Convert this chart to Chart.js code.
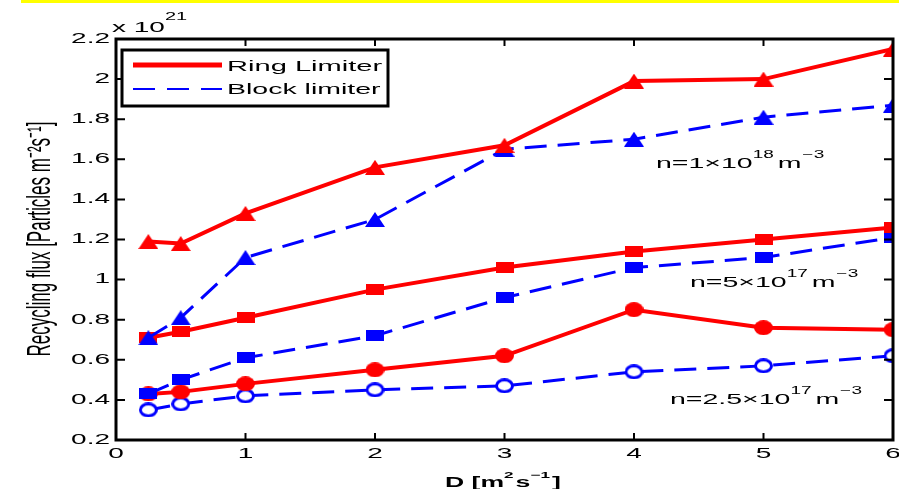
<!DOCTYPE html>
<html>
<head>
<meta charset="utf-8">
<script src="https://cdn.jsdelivr.net/npm/chart.js@4/dist/chart.umd.min.js"></script>
<style>
    html, body { margin: 0; padding: 0; background: #fff; }
    #wrap { position: relative; width: 899px; height: 489px; }
    #topBand { position: absolute; left: 21px; top: 0; width: 878px; height: 3px; background: #ffff00; }
</style>
</head>
<body>
<div id="wrap">
    <div id="topBand"></div>
    <canvas id="fluxChart" width="899" height="489"></canvas>
</div>
<script>
const D_VALUES = [0.25, 0.5, 1, 2, 3, 4, 5, 6];
const Y_TICKS = [0.2, 0.4, 0.6, 0.8, 1, 1.2, 1.4, 1.6, 1.8, 2, 2.2];
const X_TICKS = [0, 1, 2, 3, 4, 5, 6];

// n = 1e18
const RING_HIGH = [1.19, 1.18, 1.33, 1.56, 1.67, 1.99, 2.0, 2.15];
const BLOCK_HIGH = [0.71, 0.81, 1.11, 1.30, 1.65, 1.70, 1.81, 1.87];
// n = 5e17
const RING_MID = [0.71, 0.74, 0.81, 0.95, 1.06, 1.14, 1.20, 1.26];
const BLOCK_MID = [0.43, 0.50, 0.61, 0.72, 0.91, 1.06, 1.11, 1.21];
// n = 2.5e17
const RING_LOW = [0.43, 0.44, 0.48, 0.55, 0.62, 0.85, 0.76, 0.75];
const BLOCK_LOW = [0.35, 0.38, 0.42, 0.45, 0.47, 0.54, 0.57, 0.62];

const RED = '#ff0000';
const BLUE = '#0000ff';
const FONT = 'Liberation Sans, Arial, sans-serif';
const STRETCH = 1.9; // the original figure is squashed vertically, text looks wide

// markers are wider than tall in the source, so draw them on small canvases
const makeMarker = (shape, color, w, h, hollow) => {
    const c = document.createElement('canvas');
    c.width = w;
    c.height = h;
    const g = c.getContext('2d');
    g.fillStyle = color;
    g.strokeStyle = color;
    g.beginPath();
    if (shape === 'triangle') {
        g.moveTo(w / 2, 0);
        g.lineTo(w, h);
        g.lineTo(0, h);
        g.closePath();
        g.fill();
    } else if (shape === 'rect') {
        g.fillRect(0, 0, w, h);
    } else {
        const lw = hollow ? 3 : 0;
        g.ellipse(w / 2, h / 2, w / 2 - lw / 2, h / 2 - lw / 2, 0, 0, Math.PI * 2);
        if (hollow) {
            g.fillStyle = '#fff';
            g.fill();
            g.lineWidth = lw;
            g.stroke();
        } else {
            g.fill();
        }
    }
    return c;
};

const toPoints = (values) => values.map((v, i) => ({ x: D_VALUES[i], y: v }));

const series = (label, values, color, marker, dashed) => ({
    label,
    data: toPoints(values),
    borderColor: color,
    backgroundColor: color,
    borderWidth: dashed ? 3 : 4,
    borderDash: dashed ? [22, 11] : [],
    pointStyle: marker,
    pointRadius: 8,
    tension: 0,
});

const text = (ctx, str, x, y, opts = {}) => {
    const sx = opts.sx || STRETCH;
    ctx.save();
    ctx.font = `${opts.bold ? 'bold ' : ''}${opts.size || 15}px ${FONT}`;
    ctx.textAlign = opts.align || 'left';
    ctx.textBaseline = opts.baseline || 'alphabetic';
    ctx.fillStyle = '#000';
    ctx.translate(x, y);
    ctx.scale(sx, 1);
    if (opts.rotate) ctx.rotate(opts.rotate);
    ctx.fillText(str, 0, 0);
    const w = ctx.measureText(str).width * sx;
    ctx.restore();
    return w;
};

const framePlugin = {
    id: 'frame',
    afterDraw(chart) {
        const { ctx, chartArea: a, scales } = chart;
        const x = scales.x;
        const y = scales.y;
        ctx.save();
        ctx.strokeStyle = '#000';
        ctx.lineWidth = 3;
        ctx.strokeRect(a.left, a.top, a.right - a.left, a.bottom - a.top);

        ctx.lineWidth = 2;
        ctx.beginPath();
        X_TICKS.forEach((t) => {
            const px = x.getPixelForValue(t);
            ctx.moveTo(px, a.bottom); ctx.lineTo(px, a.bottom - 7);
            ctx.moveTo(px, a.top); ctx.lineTo(px, a.top + 7);
        });
        Y_TICKS.forEach((t) => {
            const py = y.getPixelForValue(t);
            ctx.moveTo(a.left, py); ctx.lineTo(a.left + 9, py);
            ctx.moveTo(a.right, py); ctx.lineTo(a.right - 9, py);
        });
        ctx.stroke();
        ctx.restore();

        // tick labels
        Y_TICKS.forEach((t) => {
            const label = String(Math.round(t * 10) / 10);
            text(ctx, label, a.left - 6, y.getPixelForValue(t), { size: 14, align: 'right', baseline: 'middle', sx: 2.0 });
        });
        X_TICKS.forEach((t) => {
            text(ctx, String(t), x.getPixelForValue(t), a.bottom + 14, { size: 14, align: 'center', baseline: 'middle', sx: 2.0 });
        });

        // axis titles
        let w = text(ctx, 'D [m', 445, 487, { size: 14, bold: true });
        w += text(ctx, '2', 445 + w, 478, { size: 9, bold: true });
        w += text(ctx, 's', 445 + w + 2, 487, { size: 14, bold: true }) + 2;
        w += text(ctx, '\u22121', 445 + w, 478, { size: 9, bold: true });
        text(ctx, ']', 445 + w + 2, 487, { size: 14, bold: true });

        text(ctx, 'Recycling flux [Particles m\u207b\u00b2s\u207b\u00b9]', 41, 239,
            { size: 17, align: 'center', baseline: 'middle', sx: 1.9, rotate: -Math.PI / 2 });

        // exponent label
        const xw = text(ctx, 'x 10', 112, 32, { size: 14, sx: 2.0 });
        text(ctx, '21', 112 + xw, 20, { size: 10, sx: 2.0 });

        // legend
        const lx = 122, ly = 50, lw = 266, lh = 56;
        ctx.save();
        ctx.fillStyle = '#fff';
        ctx.fillRect(lx, ly, lw, lh);
        ctx.lineWidth = 3;
        ctx.strokeStyle = '#000';
        ctx.strokeRect(lx, ly, lw, lh);
        ctx.lineWidth = 5;
        ctx.strokeStyle = RED;
        ctx.beginPath(); ctx.moveTo(133, 65); ctx.lineTo(222, 65); ctx.stroke();
        ctx.lineWidth = 2;
        ctx.strokeStyle = BLUE;
        ctx.setLineDash([22, 12]);
        ctx.beginPath(); ctx.moveTo(133, 89); ctx.lineTo(222, 89); ctx.stroke();
        ctx.restore();
        text(ctx, 'Ring Limiter', 227, 67, { size: 15, baseline: 'middle', sx: 1.94 });
        text(ctx, 'Block limiter', 227, 90, { size: 15, baseline: 'middle', sx: 1.9 });

        // density annotations
        const note = (base, exp, px, py) => {
            let nw = text(ctx, base, px, py, { size: 15 });
            nw += text(ctx, exp, px + nw, py - 10, { size: 10 });
            nw += 4;
            nw += text(ctx, 'm', px + nw, py, { size: 15 });
            text(ctx, '\u22123', px + nw + 1, py - 10, { size: 10 });
        };
        note('n=1\u00d710', '18', 656, 168);
        note('n=5\u00d710', '17', 690, 287);
        note('n=2.5\u00d710', '17', 670, 404);
    },
};

const RING_TRI = makeMarker('triangle', RED, 20, 15);
const BLOCK_TRI = makeMarker('triangle', BLUE, 20, 15);
const RING_SQ = makeMarker('rect', RED, 18, 11);
const BLOCK_SQ = makeMarker('rect', BLUE, 18, 11);
const RING_CIR = makeMarker('circle', RED, 19, 15);
const BLOCK_CIR = makeMarker('circle', BLUE, 19, 15, true);

new Chart(document.getElementById('fluxChart'), {
    type: 'line',
    data: {
        datasets: [
            series('Ring Limiter', RING_HIGH, RED, RING_TRI, false),
            series('Block limiter', BLOCK_HIGH, BLUE, BLOCK_TRI, true),
            series('Ring Limiter n=5e17', RING_MID, RED, RING_SQ, false),
            series('Block limiter n=5e17', BLOCK_MID, BLUE, BLOCK_SQ, true),
            series('Ring Limiter n=2.5e17', RING_LOW, RED, RING_CIR, false),
            series('Block limiter n=2.5e17', BLOCK_LOW, BLUE, BLOCK_CIR, true),
        ],
    },
    options: {
        responsive: false,
        animation: false,
        layout: { autoPadding: false, padding: { top: 39, right: 6, left: 0, bottom: 0 } },
        plugins: {
            legend: { display: false },
            tooltip: { enabled: false },
        },
        scales: {
            x: {
                type: 'linear',
                min: 0,
                max: 6,
                afterBuildTicks: (scale) => { scale.ticks = X_TICKS.map((v) => ({ value: v })); },
                afterFit: (scale) => { scale.height = 49; },
                grid: { display: false, drawTicks: false },
                border: { display: false },
                ticks: { display: false },
            },
            y: {
                min: 0.2,
                max: 2.2,
                afterBuildTicks: (scale) => { scale.ticks = Y_TICKS.map((v) => ({ value: v })); },
                afterFit: (scale) => { scale.width = 116; },
                grid: { display: false, drawTicks: false },
                border: { display: false },
                ticks: { display: false },
            },
        },
    },
    plugins: [framePlugin],
});
</script>
</body>
</html>
